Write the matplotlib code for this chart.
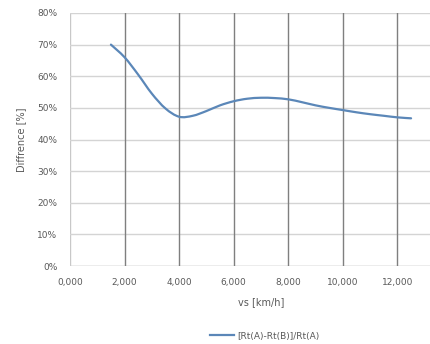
import matplotlib.pyplot as plt
from matplotlib.path import Path
from matplotlib.patches import PathPatch
from matplotlib.lines import Line2D
from matplotlib.ticker import FuncFormatter

# values
vs = [1500, 2000, 2500, 3000, 3500, 4000, 4500, 5000, 5500, 6000, 6500, 7000,
      7500, 8000, 8500, 9000, 9500, 10000, 10500, 11000, 11500, 12000, 12500]
diff = [0.700, 0.660, 0.605, 0.545, 0.498, 0.472, 0.475, 0.490, 0.508, 0.521, 0.529, 0.532,
        0.531, 0.527, 0.518, 0.508, 0.500, 0.493, 0.486, 0.480, 0.475, 0.470, 0.467]

x_ticks = [0, 2000, 4000, 6000, 8000, 10000, 12000, 14000]
y_ticks = [0, 0.1, 0.2, 0.3, 0.4, 0.5, 0.6, 0.7, 0.8]
series_name = '[Rt(A)-Rt(B)]/Rt(A)'

plt.rcParams['font.family'] = ['DejaVu Sans']
txt = '#595959'
blue = '#5b87b8'

fig = plt.figure(figsize=(4.3, 3.44), dpi=100)
ax = fig.add_axes([70 / 430, 78 / 344, 382 / 430, 253 / 344])


def smooth_path(xs, ys, t=1 / 6):
    # Excel-style smoothed line: cubic bezier segments through the data points
    verts = [(xs[0], ys[0])]
    codes = [Path.MOVETO]
    n = len(xs)
    for i in range(n - 1):
        x0, y0 = xs[max(i - 1, 0)], ys[max(i - 1, 0)]
        x1, y1 = xs[i], ys[i]
        x2, y2 = xs[i + 1], ys[i + 1]
        x3, y3 = xs[min(i + 2, n - 1)], ys[min(i + 2, n - 1)]
        verts += [(x1 + (x2 - x0) * t, y1 + (y2 - y0) * t),
                  (x2 - (x3 - x1) * t, y2 - (y3 - y1) * t),
                  (x2, y2)]
        codes += [Path.CURVE4] * 3
    return Path(verts, codes)


ax.add_patch(PathPatch(smooth_path(vs, diff), fill=False, edgecolor=blue, lw=1.6,
                       capstyle='round', zorder=3))

ax.set_xlim(0, 14000)
ax.set_ylim(0, 0.8)
ax.set_xticks(x_ticks)
ax.set_yticks(y_ticks)
ax.xaxis.set_major_formatter(
    FuncFormatter(lambda v, p: '' if v > 12000 else f"{v / 1000:.3f}".replace('.', ',')))
ax.yaxis.set_major_formatter(FuncFormatter(lambda v, p: f"{v * 100:.0f}%"))

# gridlines: light horizontal, dark vertical (axis lines at 0 stay light)
ax.grid(axis='y', color='#d4d4d4', lw=1.0)
for xv in x_ticks[1:]:
    ax.axvline(xv, color='#7f7f7f', lw=1.0, zorder=1)
for s in ax.spines.values():
    s.set_visible(False)
ax.set_axisbelow(True)
ax.axhline(0, color='#bfbfbf', lw=1.0, zorder=0.5)
ax.axvline(0, color='#c8c8c8', lw=1.0, zorder=0.5)

ax.tick_params(length=0, labelsize=6.5, colors=txt)
ax.tick_params(axis='y', pad=9)
ax.tick_params(axis='x', pad=9)
ax.set_xlabel('vs [km/h]', fontsize=7, color=txt, labelpad=7)
ax.set_ylabel('Diffrence [%]', fontsize=7, color=txt, labelpad=8)

handle = Line2D([], [], color=blue, lw=1.6)
fig.legend([handle], [series_name], loc='center', bbox_to_anchor=(265 / 430, 1 - 336 / 344),
           frameon=False, fontsize=6.5, labelcolor=txt, handlelength=2.6, handletextpad=0.4)

fig.savefig('out.png', dpi=100)
